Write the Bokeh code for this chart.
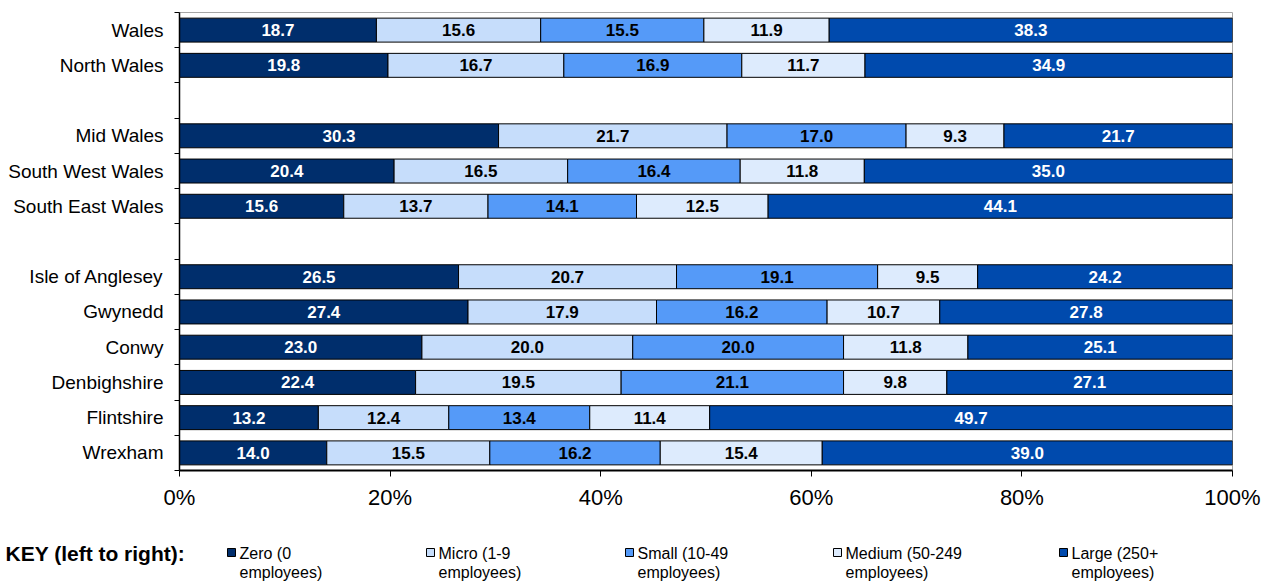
from bokeh.plotting import figure
from bokeh.models import ColumnDataSource, Range1d, FixedTicker, NumeralTickFormatter
from bokeh.layouts import column
from bokeh.embed import file_html
from bokeh.resources import INLINE
from bokeh.core.properties import value

# ---------------- data ----------------
groups = [
    ["Wales", "North Wales"],
    ["Mid Wales", "South West Wales", "South East Wales"],
    ["Isle of Anglesey", "Gwynedd", "Conwy", "Denbighshire", "Flintshire", "Wrexham"],
]
series_names = ["Zero (0 employees)", "Micro (1-9 employees)", "Small (10-49 employees)",
                "Medium (50-249 employees)", "Large (250+ employees)"]
zero   = [18.7, 19.8, 30.3, 20.4, 15.6, 26.5, 27.4, 23.0, 22.4, 13.2, 14.0]
micro  = [15.6, 16.7, 21.7, 16.5, 13.7, 20.7, 17.9, 20.0, 19.5, 12.4, 15.5]
small  = [15.5, 16.9, 17.0, 16.4, 14.1, 19.1, 16.2, 20.0, 21.1, 13.4, 16.2]
medium = [11.9, 11.7, 9.3, 11.8, 12.5, 9.5, 10.7, 11.8, 9.8, 11.4, 15.4]
large  = [38.3, 34.9, 21.7, 35.0, 44.1, 24.2, 27.8, 25.1, 27.1, 49.7, 39.0]
x_ticks = [0, 0.2, 0.4, 0.6, 0.8, 1.0]

series = [zero, micro, small, medium, large]
fill_colors = ["#002E6C", "#C6DDFB", "#559AF8", "#DDEBFD", "#004AAD"]
text_colors = ["white", "black", "black", "black", "white"]
FONT = "Liberation Sans"

# slot positions (one empty slot between groups)
names, slots = [], []
pos = 0
for gi, g in enumerate(groups):
    if gi > 0:
        pos += 1
    for n in g:
        names.append(n)
        slots.append(pos)
        pos += 1
n_slots = pos

totals = [sum(s[i] for s in series) for i in range(len(names))]

W = 1266
MAIN_H = 530
LEG_H = 53

p = figure(width=W, height=MAIN_H, x_range=Range1d(0, 1), y_range=Range1d(n_slots - 0.5, -0.5),
           output_backend="svg", toolbar_location=None,
           min_border_left=179, min_border_right=34, min_border_top=12, min_border_bottom=60)
p.frame_align = False
p.xgrid.visible = False
p.ygrid.visible = False
p.outline_line_color = "#A6A6A6"
p.outline_line_width = 1

left = [0.0] * len(names)
for k, s in enumerate(series):
    frac = [v / t for v, t in zip(s, totals)]
    right = [l + f for l, f in zip(left, frac)]
    mid = [(l + r) / 2 for l, r in zip(left, right)]
    src = ColumnDataSource(dict(y=slots, left=left, right=right, mid=mid,
                                lab=["%.1f" % v for v in s]))
    p.hbar(y="y", left="left", right="right", height=0.68, source=src,
           fill_color=fill_colors[k], line_color="black", line_width=1)
    p.text(x="mid", y="y", text="lab", source=src, text_align="center", text_baseline="middle",
           text_font=value(FONT), text_font_style="bold", text_font_size="17px",
           text_color=text_colors[k])
    left = right

# x axis
xa = p.xaxis[0]
xa.ticker = FixedTicker(ticks=x_ticks)
xa.formatter = NumeralTickFormatter(format="0%")
xa.axis_line_color = "black"
xa.axis_line_width = 2
xa.major_tick_in = 0
xa.major_tick_out = 6
xa.minor_tick_line_color = None
xa.major_label_text_font = FONT
xa.major_label_text_font_size = "22px"
xa.major_label_text_color = "black"
xa.major_label_standoff = 8

# y axis
ya = p.yaxis[0]
ya.ticker = FixedTicker(ticks=slots, minor_ticks=[i - 0.5 for i in range(n_slots + 1)])
ya.major_label_overrides = {s: n for s, n in zip(slots, names)}
ya.major_tick_in = 0
ya.major_tick_out = 0
ya.major_tick_line_color = None
ya.minor_tick_in = 0
ya.minor_tick_out = 5
ya.minor_tick_line_color = "black"
ya.axis_line_color = "black"
ya.axis_line_width = 1.5
ya.major_label_text_font = FONT
ya.major_label_text_font_size = "19px"
ya.major_label_text_color = "black"
ya.major_label_standoff = 11

# legend figure (custom key), coordinates in page pixels
lg = figure(width=W, height=LEG_H, x_range=Range1d(0, W), y_range=Range1d(0, LEG_H),
            output_backend="svg", toolbar_location=None, min_border=0)
lg.frame_align = False
lg.axis.visible = False
lg.grid.visible = False
lg.outline_line_color = None
line1_y = LEG_H - 23
line2_y = LEG_H - 42
lg.text(x=[5], y=[line1_y], text=["KEY (left to right):"], text_baseline="middle",
        text_font=value(FONT), text_font_style="bold", text_font_size="21px", text_color="black")
key_x = [231, 430, 629, 837, 1063]
wrapped = [n.rsplit(" ", 1) for n in series_names]
for k in range(len(series_names)):
    lg.scatter(x=[key_x[k]], y=[line1_y + 1], marker="square", size=8,
               fill_color=fill_colors[k], line_color="black", line_width=1)
    lg.text(x=[key_x[k] + 8, key_x[k] + 8], y=[line1_y, line2_y], text=wrapped[k],
            text_baseline="middle", text_font=value(FONT), text_font_size="16px",
            text_color="black")

lay = column(p, lg, spacing=0)
open("out.html", "w").write(file_html(lay, INLINE))
